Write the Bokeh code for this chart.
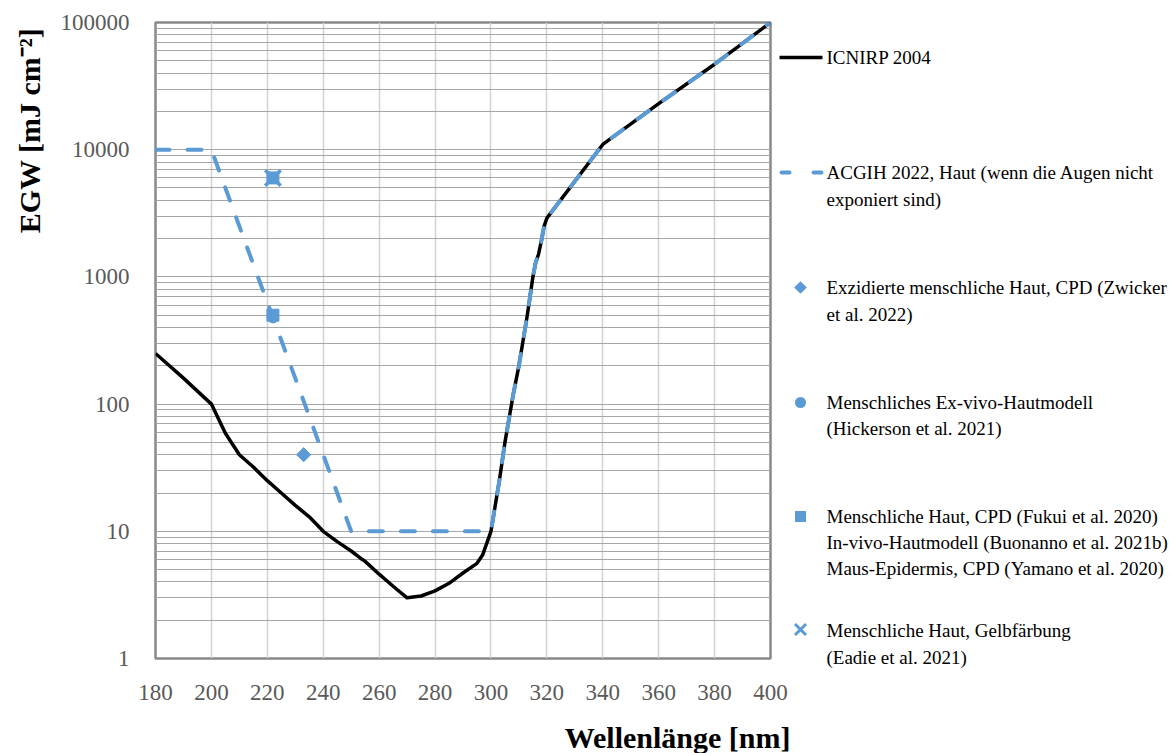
import math
from bokeh.plotting import figure
from bokeh.models import FixedTicker, Range1d, LinearScale
from bokeh.core.properties import value
from bokeh.embed import file_html
from bokeh.resources import INLINE

# ---------------- data ----------------
icnirp_wl = [180, 190, 200, 205, 210, 215, 220, 225, 230, 235, 240, 245, 250, 254, 255,
             260, 265, 270, 275, 280, 285, 290, 295, 297, 300, 303, 305, 308, 310, 313,
             315, 316, 317, 318, 319, 320, 340, 360, 380, 400]
icnirp_h = [250, 160, 100, 59, 40, 32, 25, 20, 16, 13, 10, 8.3, 7.0, 6.0, 5.8,
            4.6, 3.7, 3.0, 3.1, 3.4, 3.9, 4.7, 5.6, 6.5, 10, 25, 50, 120, 200, 500,
            1000, 1300, 1500, 1900, 2500, 2900, 11000, 23000, 47000, 100000]

acgih_wl = [180, 190, 200, 210, 220, 230, 240, 250, 260, 270, 280, 290, 300, 303, 305,
            308, 310, 313, 315, 316, 317, 318, 319, 320, 340, 360, 380, 400]
acgih_h = [10000, 10000, 10000, 2500, 630, 160, 40, 10, 10, 10, 10, 10, 10, 25, 50,
           120, 200, 500, 1000, 1300, 1500, 1900, 2500, 2900, 11000, 23000, 47000, 100000]

zwicker_wl = [233]
zwicker_h = [40]
hickerson_wl = [222]
hickerson_h = [480]
cpd_wl = [222, 222]
cpd_h = [500, 6000]
eadie_wl = [222]
eadie_h = [6000]

x_ticks = [180, 200, 220, 240, 260, 280, 300, 320, 340, 360, 380, 400]
y_ticks = [1, 10, 100, 1000, 10000, 100000]
y_tick_labels = ["1", "10", "100", "1000", "10000", "100000"]

x_title = "Wellenlänge [nm]"
y_title = "EGW [mJ cm⁻²]"

legend_lines = [
    "ICNIRP 2004",
    "ACGIH 2022, Haut  (wenn die Augen nicht",
    "exponiert sind)",
    "Exzidierte menschliche Haut, CPD (Zwicker",
    "et al. 2022)",
    "Menschliches Ex-vivo-Hautmodell",
    "(Hickerson et al. 2021)",
    "Menschliche Haut, CPD (Fukui et al. 2020)",
    "In-vivo-Hautmodell (Buonanno et al. 2021b)",
    "Maus-Epidermis, CPD (Yamano et al. 2020)",
    "Menschliche Haut, Gelbfärbung",
    "(Eadie et al. 2021)",
]

# ---------------- layout / style ----------------
W, H = 1173, 753
L, R, T, B = 155, 770, 22, 658
BLUE = "#5b9bd5"
SERIF = "Liberation Serif"

legend_text_y = [57, 172, 199, 287, 314, 402, 428, 516, 542, 568, 630, 657]
legend_text_x = 826
mx = 800  # legend marker centre x

p = figure(width=W, height=H, x_range=(180, 400), y_range=(1, 100000),
           y_axis_type="log", output_backend="svg", toolbar_location=None)
p.min_border_left = L
p.min_border_right = W - R
p.min_border_top = T
p.min_border_bottom = H - B
p.background_fill_color = "white"
p.border_fill_color = "white"
p.outline_line_color = "#898989"
p.outline_line_width = 2.5

minor = [k * 10 ** d for d in range(5) for k in range(2, 10)]
yt = FixedTicker(ticks=y_ticks, minor_ticks=minor)
xt = FixedTicker(ticks=x_ticks)
p.yaxis.ticker = yt
p.ygrid.ticker = yt
p.xaxis.ticker = xt
p.xgrid.ticker = xt
p.yaxis.major_label_overrides = {t: s for t, s in zip(y_ticks, y_tick_labels)}

p.ygrid.grid_line_color = "#a6a6a6"
p.ygrid.grid_line_width = 1.2
p.ygrid.minor_grid_line_color = "#a6a6a6"
p.ygrid.minor_grid_line_width = 1.2
p.xgrid.grid_line_color = "#d4d4d4"
p.xgrid.grid_line_width = 1.6

for ax in (p.xaxis, p.yaxis):
    ax.axis_line_color = None
    ax.major_tick_line_color = None
    ax.minor_tick_line_color = None
    ax.major_label_text_font = SERIF
    ax.major_label_text_font_size = "23px"
    ax.major_label_text_color = "#595959"
p.yaxis.major_label_standoff = 20
p.xaxis.major_label_standoff = 20

# ---------------- data marks ----------------
p.line(icnirp_wl, icnirp_h, line_color="black", line_width=3.5, line_join="round")
p.line(acgih_wl, acgih_h, line_color=BLUE, line_width=4, line_dash="14 18",
       line_cap="round", line_join="round")
p.scatter(hickerson_wl, hickerson_h, marker="circle", size=11, color=BLUE)
p.scatter(cpd_wl, cpd_h, marker="square", size=12, color=BLUE)
p.scatter(zwicker_wl, zwicker_h, marker="square", size=10, angle=math.pi / 4, color=BLUE)
p.scatter(eadie_wl, eadie_h, marker="x", size=22, line_color=BLUE, line_width=3.5)

# ---------------- pixel-space layer for legend and titles ----------------
p.extra_x_ranges = {"px": Range1d(L, R)}
p.extra_y_ranges = {"py": Range1d(B, T)}
p.extra_y_scales = {"py": LinearScale()}
kw = dict(x_range_name="px", y_range_name="py", level="overlay")

# legend symbols (drawn as short thick strokes so they are not culled outside the frame)
p.line([779, 822], [57, 57], line_color="black", line_width=3.5, **kw)
p.line([781, 822], [172, 172], line_color=BLUE, line_width=4, line_dash="8 24",
       line_cap="round", **kw)
d = 9 / (2 * math.sqrt(2))
p.line([mx - d, mx + d], [287 - d, 287 + d], line_color=BLUE, line_width=9, **kw)
p.line([mx - 0.01, mx + 0.01], [402, 402], line_color=BLUE, line_width=11,
       line_cap="round", **kw)
p.line([mx - 5.5, mx + 5.5], [516, 516], line_color=BLUE, line_width=11, **kw)
p.multi_line([[mx - 5.5, mx + 5.5], [mx - 5.5, mx + 5.5]], [[623.5, 634.5], [634.5, 623.5]],
             line_color=BLUE, line_width=3, **kw)

p.text([legend_text_x] * len(legend_lines), legend_text_y, text=legend_lines,
       text_font=value(SERIF), text_font_size="19px", text_color="black",
       text_align="left", text_baseline="middle", **kw)

p.text([790], [737], text=[x_title], text_font=value(SERIF), text_font_size="30px",
       text_font_style="bold", text_color="black", text_align="right",
       text_baseline="middle", **kw)
p.text([29], [130], text=[y_title], text_font=value(SERIF), text_font_size="30px",
       text_font_style="bold", text_color="black", text_align="center",
       text_baseline="middle", angle=math.pi / 2, **kw)

open("out.html", "w").write(file_html(p, INLINE))
